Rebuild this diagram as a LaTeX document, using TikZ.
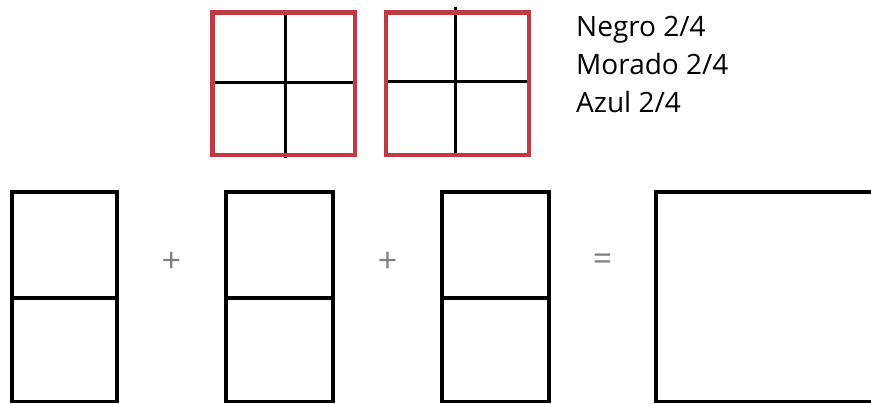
\documentclass[tikz,border=0pt]{standalone}
\usepackage{fontspec}
\setmainfont{Open Sans}
\definecolor{boxred}{RGB}{193,57,67}
\definecolor{opgray}{RGB}{128,128,128}
\begin{document}
\begin{tikzpicture}[x=1pt,y=-1pt,
  redsq/.style={draw=boxred,line width=4.5pt},
  cross/.style={draw=black,line width=3pt},
  blackbox/.style={draw=black,line width=3.2pt},
  label/.style={anchor=base west,inner sep=0pt,font=\fontsize{28}{32}\selectfont},
  op/.style={inner sep=0pt,text=opgray,font=\fontsize{34}{34}\selectfont}]
\useasboundingbox (0,0) rectangle (871,404);
\clip (0,0) rectangle (871,404);
% top squares
\draw[cross] (285.5,12) -- (285.5,158);
\draw[cross] (211,83) -- (357,83);
\draw[redsq] (212.5,12.5) rectangle (355,155);
\draw[cross] (455.5,7) -- (455.5,154);
\draw[cross] (384,82) -- (530,82);
\draw[redsq] (386,12.5) rectangle (529,155);
% labels
\node[label] (negro) at (576,37) {Negro 2/4};
\node[label] (morado) at (576,75) {Morado 2/4};
\node[label] (azul) at (576,113) {Azul 2/4};
% bottom boxes
\draw[blackbox] (12,192) rectangle (117,401.5);
\draw[blackbox] (12,298) -- (117,298);
\draw[blackbox] (226,192) rectangle (333,401.5);
\draw[blackbox] (226,298) -- (333,298);
\draw[blackbox] (442,192) rectangle (549,401.5);
\draw[blackbox] (442,298) -- (549,298);
\draw[blackbox] (656,192) rectangle (880,401.5);
\node[op] (p1) at (171.3,262) {+};
\node[op] (p2) at (387.5,262) {+};
\node[op] (eq) at (602.5,262) {=};
\end{tikzpicture}
\end{document}
